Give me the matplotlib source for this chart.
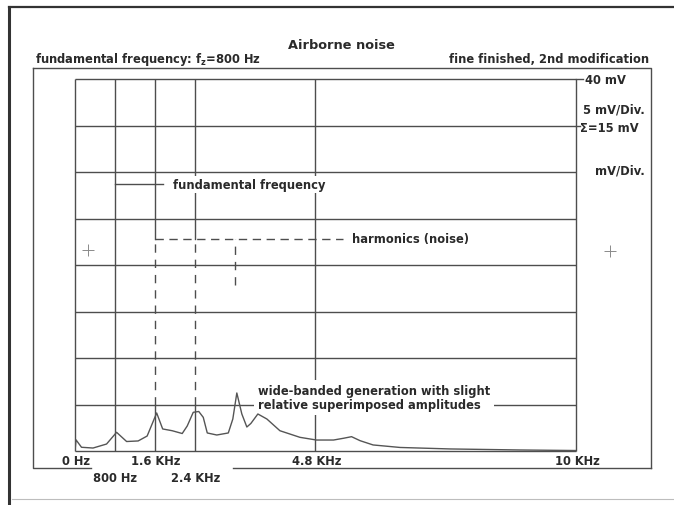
import matplotlib
matplotlib.use("Agg")
import matplotlib.pyplot as plt

# ---------------- data ----------------
title = "Airborne noise"
subtitle_left = "fundamental frequency: f$_\\mathregular{z}$=800 Hz"
subtitle_right = "fine finished, 2nd modification"

freq_khz = [0.00, 0.02, 0.13, 0.36, 0.63, 0.83, 1.03, 1.26, 1.44, 1.63, 1.75,
            1.94, 2.14, 2.24, 2.36, 2.47, 2.56, 2.64, 2.83, 3.06, 3.15, 3.23,
            3.33, 3.43, 3.51, 3.65, 3.83, 4.09, 4.49, 4.82, 5.16, 5.36, 5.52,
            5.69, 5.95, 6.49, 7.49, 8.88, 10.0]
amp_mv = [0.0, 1.2, 0.40, 0.32, 0.75, 2.01, 1.02, 1.08, 1.61, 4.09, 2.37,
          2.18, 1.88, 2.69, 4.16, 4.25, 3.62, 1.94, 1.72, 1.94, 3.44, 6.24,
          3.98, 2.58, 2.96, 3.98, 3.44, 2.18, 1.47, 1.18, 1.18, 1.37, 1.54,
          1.11, 0.65, 0.38, 0.22, 0.11, 0.05]

grid_mv = [0, 5, 10, 15, 20, 25, 30, 35, 40]
solid_grid_khz = [0, 0.8, 4.8, 10]
split_grid_khz = [1.6, 2.4]          # solid top, dashed middle, solid bottom
harmonics_khz = [1.6, 2.4, 3.2]
fundamental_khz = 0.8
harmonics_level_mv = 22.8
harmonics_end_mv = [5.0, 5.0, 17.9]
harmonics_line_end_khz = 5.35
fundamental_level_mv = 28.7
fundamental_line_end_khz = 1.76

row1_ticks = [0, 1.6, 4.8, 10]
row1_labels = ["0 Hz", "1.6 KHz", "4.8 KHz", "10 KHz"]
row2_ticks = [0.8, 2.4]
row2_labels = ["800 Hz", "2.4 KHz"]

# ---------------- styling ----------------
W, H, DPI = 674, 506, 100
LC = "#4d4d4d"
TC = "#2a2a2a"
FONT = "DejaVu Sans"
FS = 8.3
LW = 1.0

fig = plt.figure(figsize=(W / DPI, H / DPI), dpi=DPI)
fig.patch.set_facecolor("white")

# decoration layer in pixel coordinates
deco = fig.add_axes([0, 0, 1, 1], zorder=0)
deco.set_xlim(0, W)
deco.set_ylim(H, 0)
deco.axis("off")
# outer frame
deco.plot([9, 674], [8, 8], color="#333333", lw=1.6)
deco.plot([9, 9], [8, 506], color="#333333", lw=2.2)
deco.plot([12, 674], [500, 500], color="#bdbdbd", lw=0.8)
# inner box
deco.plot([33, 651, 651], [69, 69, 469], color=LC, lw=LW)
deco.plot([33, 33, 91], [69, 469, 469], color=LC, lw=LW)
deco.plot([233, 651], [469, 469], color=LC, lw=LW)
# registration marks
deco.plot([88, 610], [251, 252], ls="none", marker="+", ms=9, mew=0.7,
          color="#8a8a8a")

tkw = dict(family=FONT, weight="bold", color=TC, fontsize=FS)
deco.text(341, 45, title, ha="center", va="center",
          **{**tkw, "fontsize": 9.3})
deco.text(35, 59, subtitle_left, ha="left", va="center", **tkw)
deco.text(649, 59, subtitle_right, ha="right", va="center", **tkw)

# data axes
x0, x1, yb, yt = 75, 576, 452, 80
ax = fig.add_axes([x0 / W, (H - yb) / H, (x1 - x0) / W, (yb - yt) / H],
                  zorder=1)
ax.patch.set_alpha(0)
ax.set_xlim(0, 10)
ax.set_ylim(0, 40)
ax.axis("off")

# horizontal grid
ax.hlines(grid_mv, 0, 10, color=LC, lw=LW, clip_on=False)
ax.plot([10, 10.14], [40, 40], color=LC, lw=LW, clip_on=False)
ax.plot([10, 10.08], [35, 35], color=LC, lw=LW, clip_on=False)
# vertical grid
ax.vlines(solid_grid_khz, 0, 40, color=LC, lw=LW, clip_on=False)
for k in split_grid_khz:
    ax.plot([k, k], [harmonics_level_mv, 40], color=LC, lw=LW)
    ax.plot([k, k], [0, 5], color=LC, lw=LW)

# harmonics markers (dashed)
ax.plot([harmonics_khz[0], harmonics_line_end_khz],
        [harmonics_level_mv] * 2, color=LC, lw=LW, dashes=(6, 4))
for k, e in zip(harmonics_khz, harmonics_end_mv):
    ax.plot([k, k], [e, harmonics_level_mv], color=LC, lw=LW, dashes=(6, 5))

# fundamental callout
ax.plot([fundamental_khz, fundamental_line_end_khz],
        [fundamental_level_mv] * 2, color=LC, lw=LW)

# spectrum (drawn above the text boxes)
ax.plot(freq_khz, amp_mv, color="#555555", lw=1.0, zorder=6)

# annotation texts
ax.annotate("fundamental frequency", xy=(fundamental_line_end_khz, fundamental_level_mv),
            xytext=(10, 0), textcoords="offset pixels", ha="left", va="center",
            bbox=dict(fc="white", ec="none", pad=1.5), zorder=5, **tkw)
ax.annotate("harmonics (noise)", xy=(harmonics_line_end_khz, harmonics_level_mv),
            xytext=(9, 0), textcoords="offset pixels", ha="left", va="center",
            bbox=dict(fc="white", ec="none", pad=1.5), zorder=5, **tkw)
ax.annotate("wide-banded generation with slight\nrelative superimposed amplitudes",
            xy=(3.65, 5), xytext=(0, 7), textcoords="offset pixels",
            ha="left", va="center", linespacing=1.1,
            bbox=dict(fc="white", ec="none", pad=3), zorder=5, **tkw)

# axis labels
for k, lab in zip(row1_ticks, row1_labels):
    ax.annotate(lab, xy=(k, 0), xytext=(1, -10), textcoords="offset pixels",
                ha="center", va="center", **tkw)
for k, lab in zip(row2_ticks, row2_labels):
    ax.annotate(lab, xy=(k, 0), xytext=(0, -27), textcoords="offset pixels",
                ha="center", va="center",
                bbox=dict(fc="white", ec="none", pad=1), **tkw)

# right-hand scale texts
ax.annotate("40 mV", xy=(10, 40), xytext=(9, -1), textcoords="offset pixels",
            ha="left", va="center", **tkw)
ax.annotate("5 mV/Div.", xy=(10, 40), xytext=(7, -30), textcoords="offset pixels",
            ha="left", va="center", **tkw)
ax.annotate("\u03a3=15 mV", xy=(10, 35), xytext=(4, -2), textcoords="offset pixels",
            ha="left", va="center", **tkw)
ax.annotate("mV/Div.", xy=(10, 30), xytext=(19, 2), textcoords="offset pixels",
            ha="left", va="center", **tkw)

fig.savefig("out.png", dpi=DPI, facecolor="white")
